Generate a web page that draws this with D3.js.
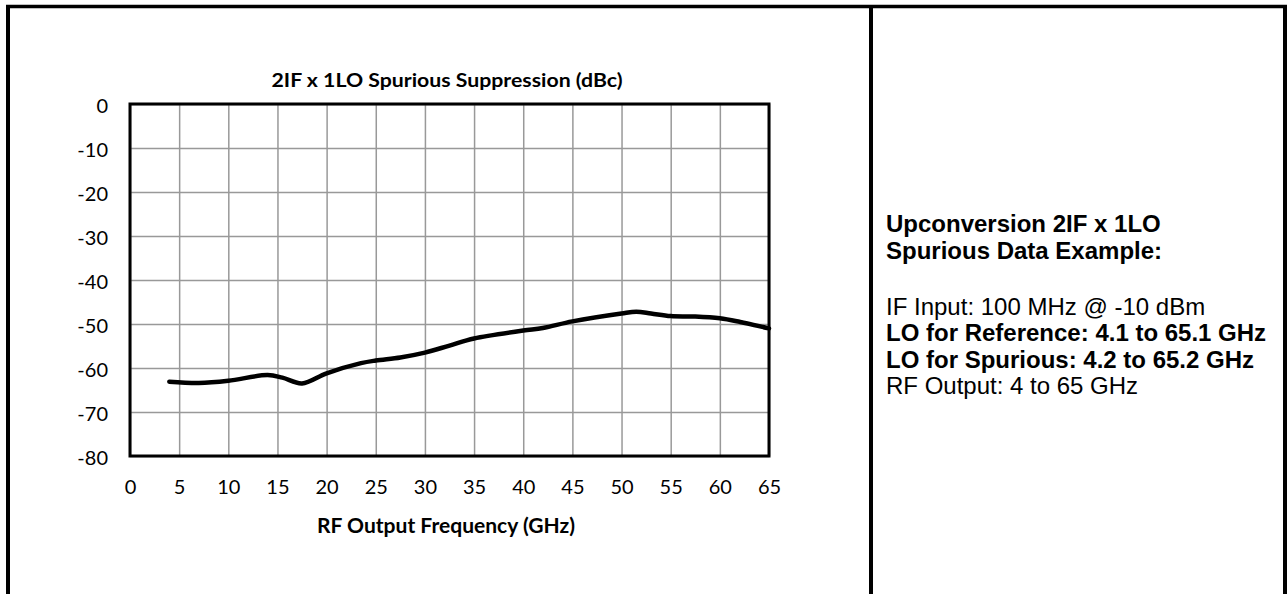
<!DOCTYPE html>
<html>
<head>
<meta charset="utf-8">
<script src="https://cdn.jsdelivr.net/npm/d3@7"></script>
<style>
  html, body { margin: 0; padding: 0; background: #fff; }
  svg { display: block; }
</style>
</head>
<body>
<svg id="chart" width="1288" height="594"></svg>
<script>
// ---- data ----
const freqGHz = [4, 7, 10, 14, 15.5, 17.5, 20, 23.5, 25, 27.5, 30, 32.5, 35, 40, 42, 45, 50, 51.5, 53, 55, 57.5, 60, 62, 65];
const suppressionDbc = [-63.1, -63.4, -62.9, -61.6, -62.2, -63.5, -61.2, -58.9, -58.3, -57.6, -56.5, -54.9, -53.3, -51.5, -50.9, -49.4, -47.6, -47.2, -47.6, -48.2, -48.3, -48.7, -49.5, -51.0];
const xTicks = [0, 5, 10, 15, 20, 25, 30, 35, 40, 45, 50, 55, 60, 65];
const yTicks = [0, -10, -20, -30, -40, -50, -60, -70, -80];
const chartTitle = "2IF x 1LO Spurious Suppression (dBc)";
const xAxisTitle = "RF Output Frequency (GHz)";
const noteHeading = ["Upconversion 2IF x 1LO", "Spurious Data Example:"];
const noteLines = [
  {text: "IF Input: 100 MHz @ -10 dBm", bold: false},
  {text: "LO for Reference: 4.1 to 65.1 GHz", bold: true},
  {text: "LO for Spurious: 4.2 to 65.2 GHz", bold: true},
  {text: "RF Output: 4 to 65 GHz", bold: false}
];

// ---- layout ----
const svg = d3.select("#chart");
const plot = {left: 130, top: 104, right: 769, bottom: 456};
const x = d3.scaleLinear().domain([0, 65]).range([plot.left, plot.right]);
const y = d3.scaleLinear().domain([-80, 0]).range([plot.bottom, plot.top]);
const chartFont = "Lato, 'Open Sans', sans-serif";
const noteFont = "'Liberation Sans', Arial, sans-serif";
const fmt = d => String(d);

// table borders
const border = svg.append("g").attr("stroke", "#000").attr("stroke-width", 4).attr("fill", "none");
border.append("line").attr("x1", 6).attr("x2", 1287).attr("y1", 6.5).attr("y2", 6.5).attr("stroke-width", 3.5);
border.append("line").attr("x1", 8).attr("x2", 8).attr("y1", 5).attr("y2", 594);
border.append("line").attr("x1", 871).attr("x2", 871).attr("y1", 5).attr("y2", 594);
border.append("line").attr("x1", 1285).attr("x2", 1285).attr("y1", 5).attr("y2", 594);

// gridlines
svg.append("g")
  .attr("transform", `translate(0,${plot.bottom})`)
  .call(d3.axisBottom(x).tickValues(xTicks).tickSize(-(plot.bottom - plot.top)).tickFormat(""))
  .call(g => g.select(".domain").remove())
  .call(g => g.selectAll("line").attr("stroke", "#999").attr("stroke-width", 1.5));
svg.append("g")
  .attr("transform", `translate(${plot.left},0)`)
  .call(d3.axisLeft(y).tickValues(yTicks).tickSize(-(plot.right - plot.left)).tickFormat(""))
  .call(g => g.select(".domain").remove())
  .call(g => g.selectAll("line").attr("stroke", "#999").attr("stroke-width", 1.5));

// plot frame
svg.append("rect")
  .attr("x", plot.left).attr("y", plot.top)
  .attr("width", plot.right - plot.left).attr("height", plot.bottom - plot.top)
  .attr("fill", "none").attr("stroke", "#000").attr("stroke-width", 3);

// tick labels
const xAxis = svg.append("g")
  .attr("transform", `translate(0,${plot.bottom})`)
  .call(d3.axisBottom(x).tickValues(xTicks).tickSize(0).tickPadding(0).tickFormat(fmt));
xAxis.select(".domain").remove();
xAxis.selectAll("text")
  .attr("y", 31).attr("dy", "0.35em")
  .attr("font-family", chartFont).attr("font-size", 20).attr("fill", "#000");

const yAxis = svg.append("g")
  .attr("transform", `translate(${plot.left},0)`)
  .call(d3.axisLeft(y).tickValues(yTicks).tickSize(0).tickPadding(0).tickFormat(fmt));
yAxis.select(".domain").remove();
yAxis.selectAll("text")
  .attr("x", -22).attr("dy", "0.42em")
  .attr("font-family", chartFont).attr("font-size", 20).attr("fill", "#000");

// line
const line = d3.line()
  .x((d, i) => x(freqGHz[i]))
  .y(d => y(d))
  .curve(d3.curveCatmullRom.alpha(0.5));
svg.append("path")
  .datum(suppressionDbc)
  .attr("d", line)
  .attr("fill", "none")
  .attr("stroke", "#000")
  .attr("stroke-width", 4.5)
  .attr("stroke-linecap", "round")
  .attr("stroke-linejoin", "round");

// titles
svg.append("text")
  .attr("x", 447).attr("y", 87)
  .attr("text-anchor", "middle")
  .attr("font-family", chartFont).attr("font-weight", "bold").attr("font-size", 19.5)
  .attr("textLength", 351).attr("lengthAdjust", "spacingAndGlyphs")
  .text(chartTitle);
svg.append("text")
  .attr("x", 446).attr("y", 533)
  .attr("text-anchor", "middle")
  .attr("font-family", chartFont).attr("font-weight", "bold").attr("font-size", 20.5)
  .attr("textLength", 258).attr("lengthAdjust", "spacingAndGlyphs")
  .text(xAxisTitle);

// note text
const note = svg.append("g").attr("font-family", noteFont).attr("font-size", 24).attr("fill", "#000");
noteHeading.forEach((t, i) => {
  note.append("text").attr("x", 886).attr("y", 232 + i * 26.5).attr("font-weight", "bold").text(t);
});
noteLines.forEach((l, i) => {
  note.append("text").attr("x", 886).attr("y", 315 + i * 26.3)
    .attr("font-weight", l.bold ? "bold" : "normal").text(l.text);
});
</script>
</body>
</html>
